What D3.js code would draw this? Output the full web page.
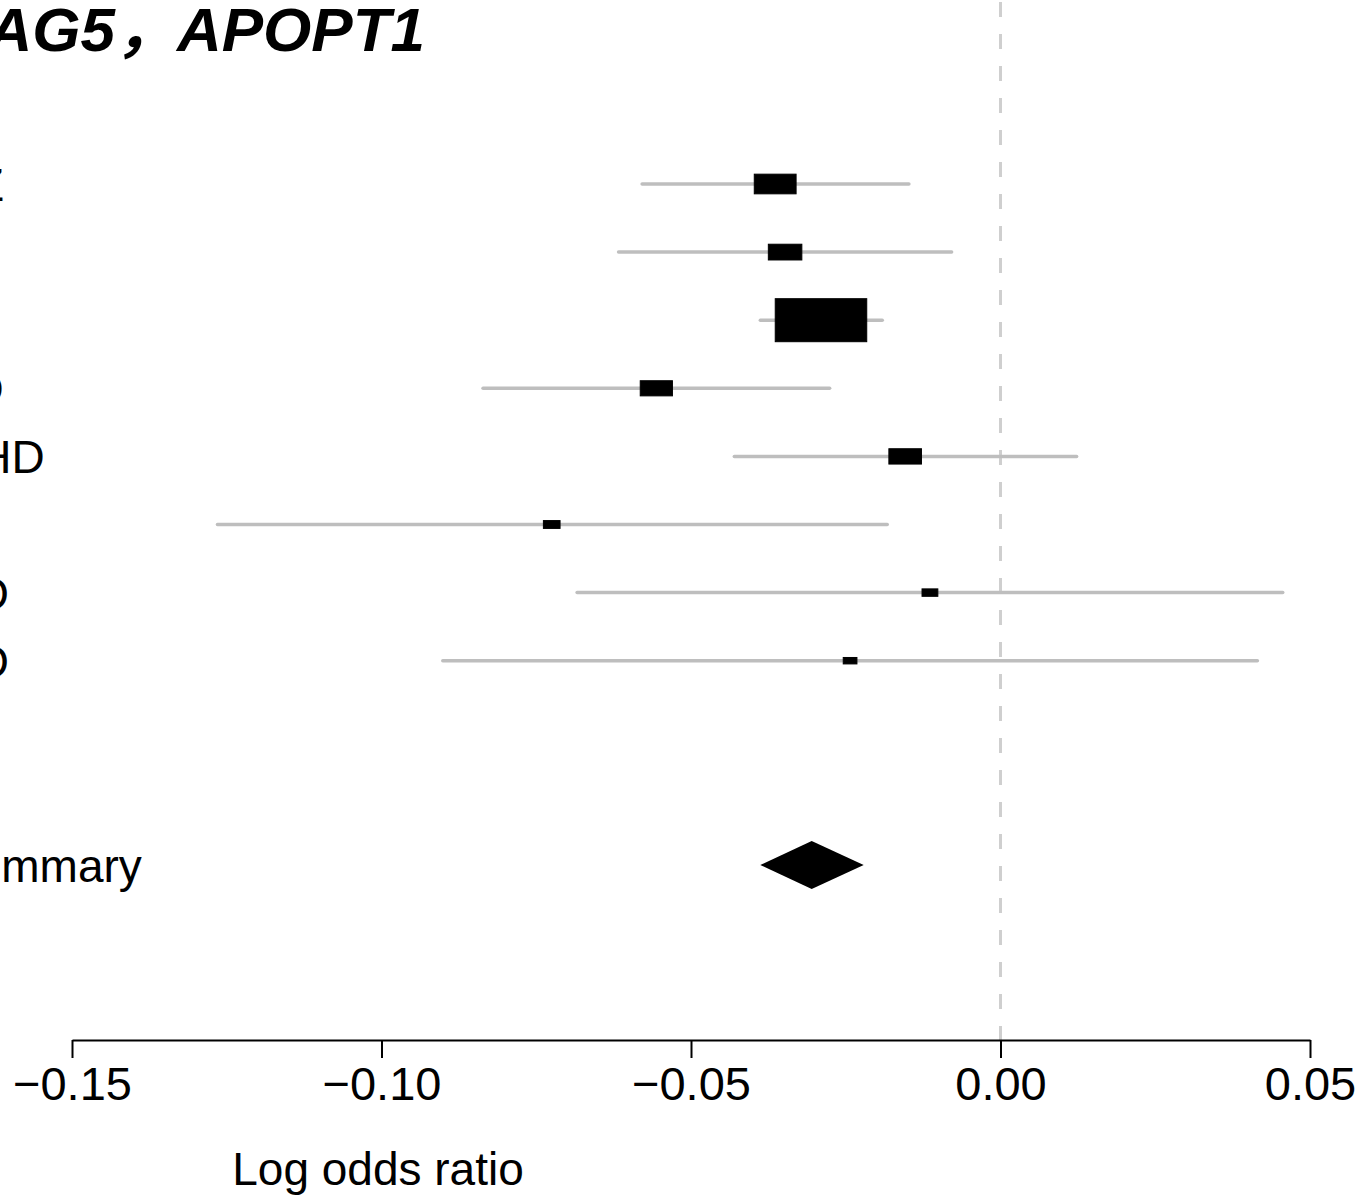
<!DOCTYPE html>
<html>
<head>
<meta charset="utf-8">
<script src="https://cdn.jsdelivr.net/npm/d3@7"></script>
<style>
  html, body { margin: 0; padding: 0; background: #ffffff; }
  svg { display: block; }
  text { font-family: "Liberation Sans", Arial, Helvetica, "Noto Sans CJK SC", sans-serif; fill: #000; }
</style>
</head>
<body>
<svg id="chart" width="1358" height="1196"></svg>
<script>
// ---------------- data ----------------
const titleText = "AG5，APOPT1";
const rowLabels = ["EZ", "Q", "B", "LD", "CHD", "E", "AD", "AD"];
const estimates = [-0.0364, -0.0348, -0.0290, -0.0556, -0.0154, -0.0725, -0.0114, -0.0243];
const lowerCI   = [-0.0579, -0.0617, -0.0388, -0.0836, -0.0430, -0.1265, -0.0684, -0.0901];
const upperCI   = [-0.0148, -0.0079, -0.0191, -0.0276,  0.0123, -0.0183,  0.0456,  0.0415];
const summaryLabel = "Summary";
const summaryEst = -0.0305;
const summaryLo = -0.0388;
const summaryHi = -0.0221;
const tickValues = [-0.15, -0.10, -0.05, 0.00, 0.05];
const tickLabels = ["\u22120.15", "\u22120.10", "\u22120.05", "0.00", "0.05"];
const xTitle = "Log odds ratio";

// ---------------- layout ----------------
const W = 1358, H = 1196;
const svg = d3.select("#chart");
svg.append("rect").attr("width", W).attr("height", H).attr("fill", "#fff");

const x = d3.scaleLinear().domain([-0.15, 0.05]).range([72, 1310]);
const y = d3.scaleLinear().domain([0, 10]).range([184, 865]);
const axisY = 1040;
const labelX = -55;
const fs = 46;

// box sizes from precision (1/CI width), as in rmeta
const rows = rowLabels.map((lab, i) => ({
  label: lab, est: estimates[i], lo: lowerCI[i], hi: upperCI[i],
  prec: 1 / (upperCI[i] - lowerCI[i])
}));
const boxW = d3.scaleLinear().domain([0, d3.max(rows, d => d.prec)]).range([0, 91.5]);

// title
svg.append("text")
  .attr("x", 425).attr("y", 51)
  .attr("text-anchor", "end")
  .style("font-size", "62px").style("font-weight", "bold").style("font-style", "italic")
  .text(titleText);

// zero reference line
svg.append("line")
  .attr("x1", x(0)).attr("x2", x(0))
  .attr("y1", 2).attr("y2", axisY)
  .attr("stroke", "#cfcfcf").attr("stroke-width", 3)
  .attr("stroke-dasharray", "15,17");

// row labels
svg.append("g").selectAll("text").data(rows).join("text")
  .attr("x", labelX).attr("y", (d, i) => y(i) + 17)
  .style("font-size", fs + "px")
  .text(d => d.label);

// CI lines
svg.append("g").selectAll("line").data(rows).join("line")
  .attr("x1", d => x(d.lo)).attr("x2", d => x(d.hi))
  .attr("y1", (d, i) => y(i)).attr("y2", (d, i) => y(i))
  .attr("stroke", "#bebebe").attr("stroke-width", 3.5).attr("stroke-linecap", "round");

// boxes
svg.append("g").selectAll("rect").data(rows).join("rect")
  .attr("x", d => x(d.est) - boxW(d.prec) / 2)
  .attr("y", (d, i) => y(i) - boxW(d.prec) * 0.47 / 2)
  .attr("width", d => boxW(d.prec))
  .attr("height", d => boxW(d.prec) * 0.47)
  .attr("fill", "#000").attr("stroke", "#000").attr("stroke-width", 1);

// summary
const sy = y(10);
svg.append("text")
  .attr("x", labelX).attr("y", sy + 17)
  .style("font-size", fs + "px")
  .text(summaryLabel);
svg.append("path")
  .attr("d", d3.line()([[x(summaryLo), sy], [x(summaryEst), sy - 24], [x(summaryHi), sy], [x(summaryEst), sy + 24]]) + "Z")
  .attr("fill", "#000");

// axis
const axis = d3.axisBottom(x)
  .tickValues(tickValues)
  .tickFormat((d, i) => tickLabels[i])
  .tickSizeInner(18).tickSizeOuter(0).tickPadding(9);
const ag = svg.append("g").attr("transform", `translate(0,${axisY})`).call(axis);
ag.select(".domain").attr("stroke", "#000").attr("stroke-width", 2.2);
ag.selectAll(".tick line").attr("stroke", "#000").attr("stroke-width", 2);
ag.selectAll(".tick text")
  .style("font-size", "47px")
  .style("font-family", '"Liberation Sans", Arial, Helvetica, sans-serif')
  .attr("fill", "#000");

// x title
svg.append("text")
  .attr("x", 378).attr("y", 1185)
  .attr("text-anchor", "middle")
  .style("font-size", fs + "px")
  .text(xTitle);
</script>
</body>
</html>
